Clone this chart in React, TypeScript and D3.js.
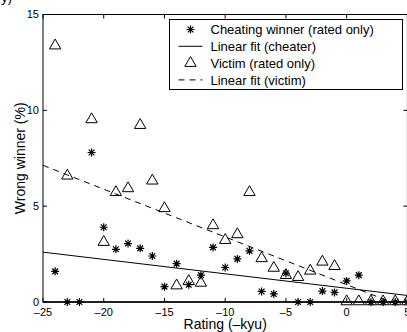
import { scaleLinear, line as d3Line, symbol, symbolTriangle } from "d3"

// rating (-kyu) for each bucket
const ratings = [-24, -23, -22, -21, -20, -19, -18, -17, -16, -15, -14, -13, -12, -11, -10, -9, -8, -7, -6, -5, -4, -3, -2, -1, 0, 1, 2, 3, 4, 5]

// wrong winner (%) where the cheater won
const cheaterPct = [1.6, 0, 0, 7.8, 3.9, 2.75, 3.05, 2.8, 2.4, 0.8, 2.0, 0.9, 1.4, 2.85, 1.8, 2.25, 2.67, 0.55, 0.42, 1.5, 0, 0, 0.57, 0.5, 1.1, 1.4, 0, 0, 0, 0]

// wrong winner (%) for the victim (null where no point)
const victimPct = [13.35, 6.56, null, 9.5, 3.1, 5.7, 5.9, 9.2, 6.3, 4.86, 0.83, 1.06, 0.97, 3.97, 3.2, 3.5, 5.7, 2.25, 1.75, 1.37, 1.27, 1.6, 2.07, 1.84, 0, 0, 0, 0, 0, 0]

// linear fits: value at rating -25 and at rating 5
const cheaterFit = [2.6, 0.34]
const victimFit = [7.13, -0.34]

const xTicks = [-25, -20, -15, -10, -5, 0, 5]
const yTicks = [0, 5, 10, 15]

const legendItems = [
  { label: "Cheating winner (rated only)", kind: "star" },
  { label: "Linear fit (cheater)", kind: "solid" },
  { label: "Victim (rated only)", kind: "triangle" },
  { label: "Linear fit (victim)", kind: "dashed" },
]

const W = 407
const H = 332
const margin = { top: 14.5, right: 0, bottom: 30, left: 43 }
const font = "'Liberation Sans', Arial, Helvetica, sans-serif"
const fmt = (v: number) => (v < 0 ? `\u2013${Math.abs(v)}` : `${v}`)

function Star({ x, y, r = 4 }: { x: number; y: number; r?: number }) {
  const d = r * 0.72
  return (
    <path
      d={`M${x - r},${y}H${x + r}M${x},${y - r}V${y + r}M${x - d},${y - d}L${x + d},${y + d}M${x - d},${y + d}L${x + d},${y - d}`}
      stroke="#000"
      strokeWidth={1.2}
      fill="none"
    />
  )
}

const triPath = symbol().type(symbolTriangle).size(56)() ?? ""

export default function App() {
  const x = scaleLinear().domain([-25, 5]).range([margin.left, W - margin.right + 0.4])
  const y = scaleLinear().domain([0, 15]).range([H - margin.bottom, margin.top])
  const x0 = x(-25)
  const x1 = x(5)
  const y0 = y(0)
  const y1 = y(15)

  const fitLine = d3Line<number>()
    .x((_, i) => x(i === 0 ? -25 : 5))
    .y((v) => y(v))

  return (
    <svg width={W} height={H} style={{ position: "absolute", left: 0, top: 0, background: "#fff" }} fontFamily={font}>
      <defs>
        <clipPath id="plot">
          <rect x={x0} y={y1} width={x1 - x0} height={y0 - y1} />
        </clipPath>
      </defs>
      <text x={12} y={2} textAnchor="end" fontSize={13}>y)</text>

      {/* fits */}
      <g clipPath="url(#plot)">
        <path d={fitLine(cheaterFit) ?? ""} stroke="#000" strokeWidth={1} fill="none" />
        <path d={fitLine(victimFit) ?? ""} stroke="#000" strokeWidth={1} strokeDasharray="6 5" fill="none" />
      </g>

      {/* markers */}
      {ratings.map((r, i) => {
        const v = victimPct[i]
        return v === null ? null : (
          <path key={`v${r}`} d={triPath} transform={`translate(${x(r)},${y(v) - 0.5})`} fill="none" stroke="#000" strokeWidth={1} />
        )
      })}
      {ratings.map((r, i) => (
        <Star key={`c${r}`} x={x(r)} y={y(cheaterPct[i])} />
      ))}

      {/* frame and ticks */}
      <rect x={x0} y={y1} width={x1 - x0} height={y0 - y1} fill="none" stroke="#000" strokeWidth={1} />
      <line x1={x0} x2={x1} y1={y0} y2={y0} stroke="#000" strokeWidth={1.4} />
      {xTicks.map((t) => (
        <g key={`xt${t}`}>
          <line x1={x(t)} x2={x(t)} y1={y0} y2={y0 - 4} stroke="#000" />
          <line x1={x(t)} x2={x(t)} y1={y1} y2={y1 + 4} stroke="#000" />
          <text x={x(t)} y={y0 + 14} textAnchor="middle" fontSize={11}>{fmt(t)}</text>
        </g>
      ))}
      {yTicks.map((t) => (
        <g key={`yt${t}`}>
          <line x1={x0} x2={x0 + 4} y1={y(t)} y2={y(t)} stroke="#000" />
          <line x1={x1} x2={x1 - 4} y1={y(t)} y2={y(t)} stroke="#000" />
          <text x={x0 - 4} y={y(t)} dy="0.35em" textAnchor="end" fontSize={11}>{t}</text>
        </g>
      ))}

      <text x={(x0 + x1) / 2} y={H - 3} textAnchor="middle" fontSize={14}>{"Rating (\u2013kyu)"}</text>
      <text transform={`translate(${25},${(y0 + y1) / 2}) rotate(-90)`} textAnchor="middle" fontSize={14}>Wrong winner (%)</text>

      {/* legend */}
      <g transform="translate(169.5,19.5)">
        <rect width={233} height={70} fill="#fff" stroke="#000" strokeWidth={1} />
        {legendItems.map((item, i) => {
          const cy = 10 + i * 16.8
          return (
            <g key={item.label}>
              {item.kind === "star" && <Star x={21} y={cy} />}
              {item.kind === "triangle" && <path d={triPath} transform={`translate(21,${cy})`} fill="none" stroke="#000" />}
              {item.kind === "solid" && <line x1={9} x2={33} y1={cy} y2={cy} stroke="#000" />}
              {item.kind === "dashed" && <line x1={9} x2={33} y1={cy} y2={cy} stroke="#000" strokeDasharray="6 5" />}
              <text x={41} y={cy} dy="0.36em" fontSize={13}>{item.label}</text>
            </g>
          )
        })}
      </g>
    </svg>
  )
}
